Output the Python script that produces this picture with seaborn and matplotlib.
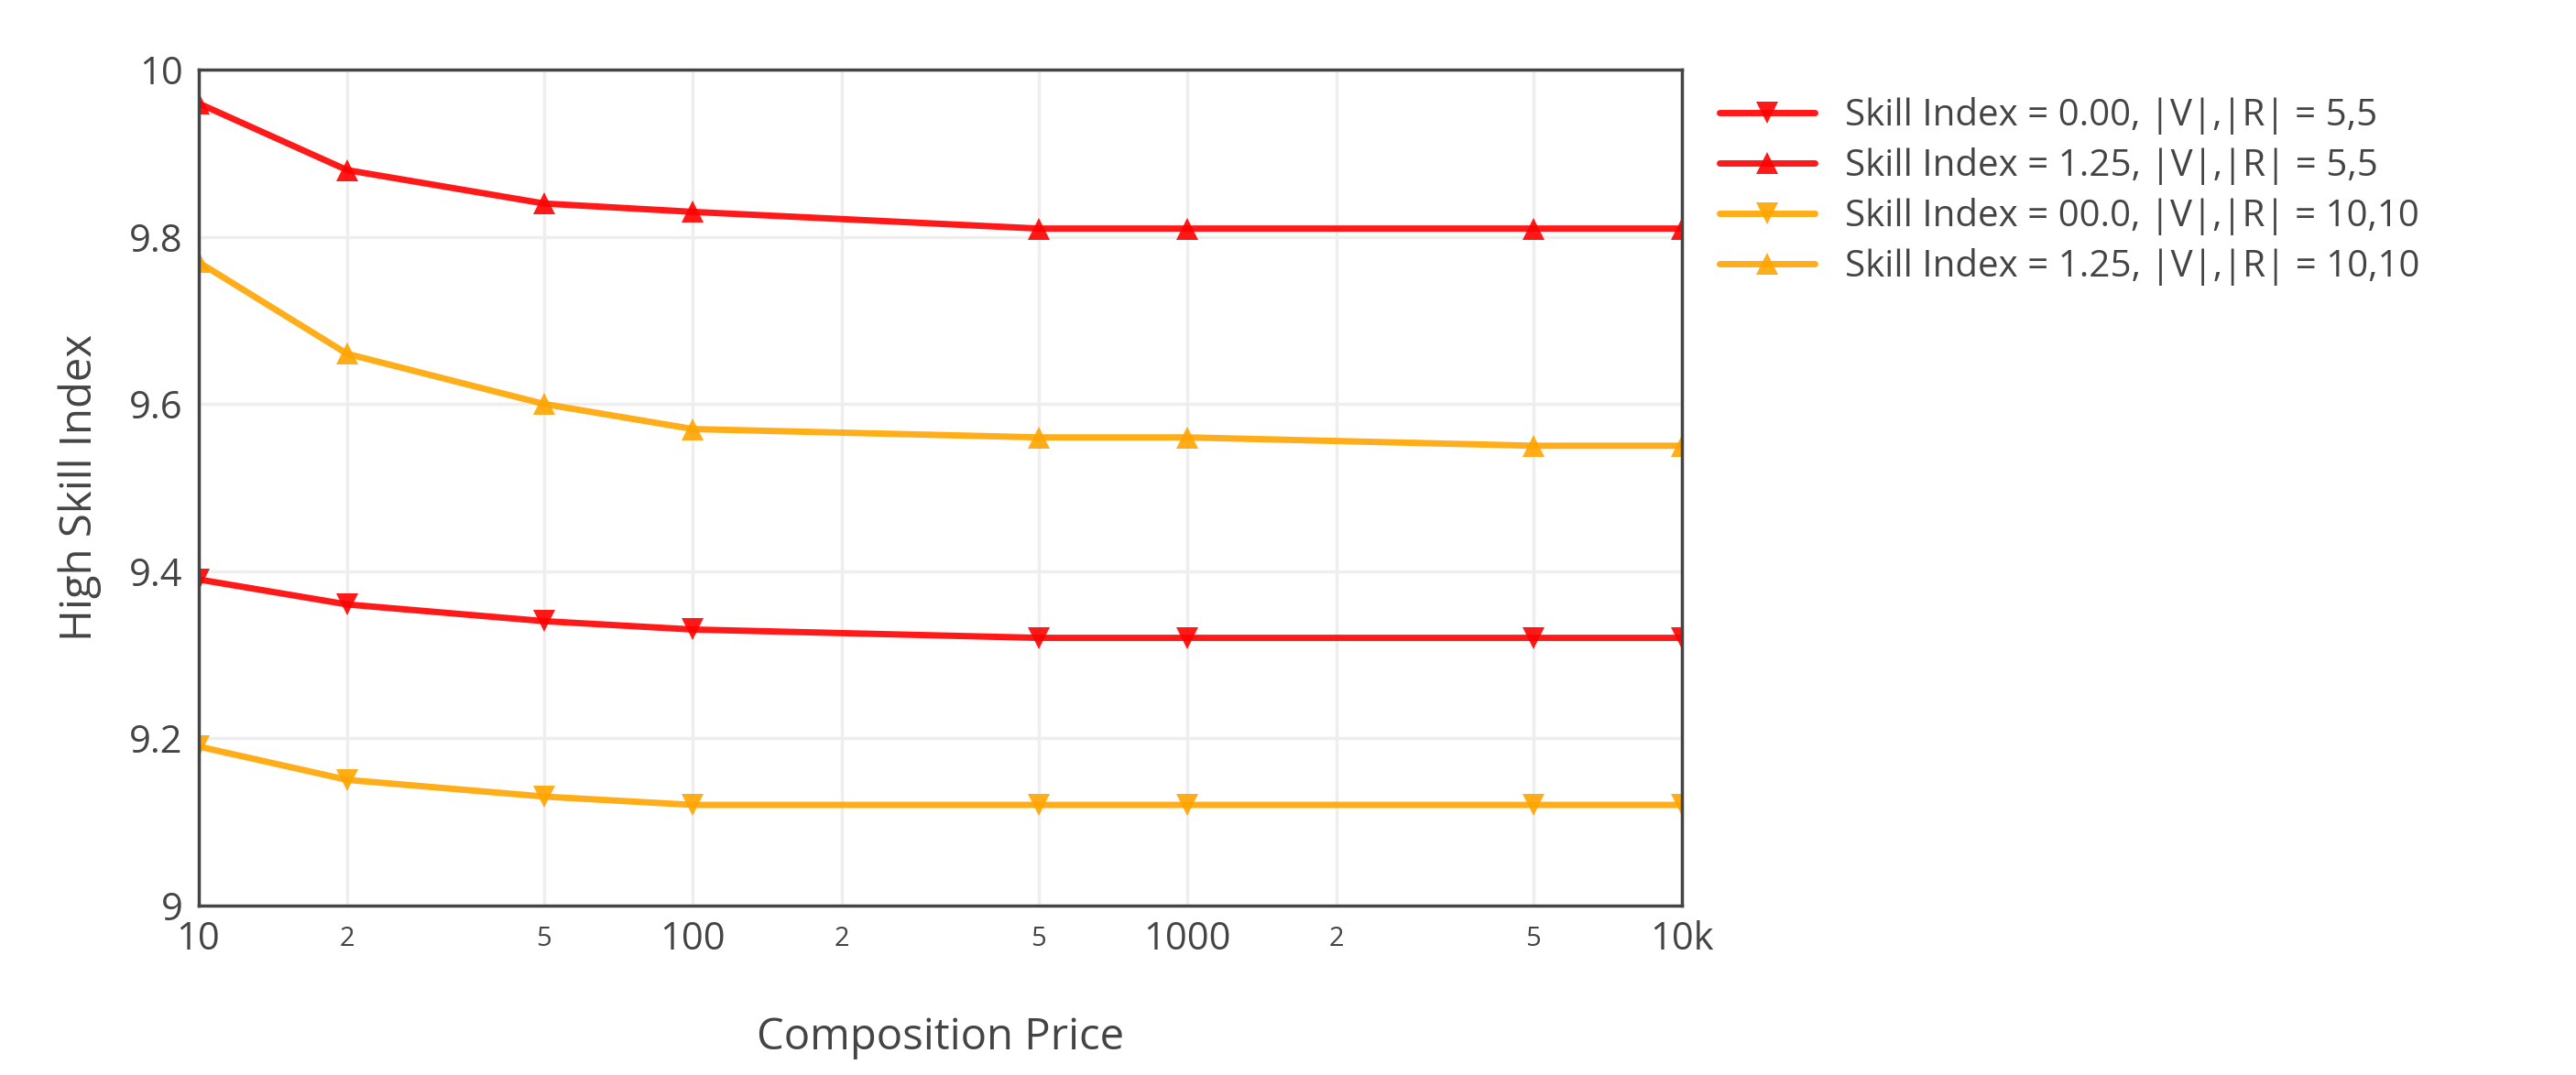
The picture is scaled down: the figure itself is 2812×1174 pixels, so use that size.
import matplotlib
matplotlib.use("Agg")
import matplotlib.pyplot as plt
import seaborn as sns
import pandas as pd
import numpy as np
from matplotlib.ticker import FixedLocator, FixedFormatter

prices = [10, 20, 50, 100, 500, 1000, 5000, 10000]
s_red_down = [9.39, 9.36, 9.34, 9.33, 9.32, 9.32, 9.32, 9.32]
s_red_up = [9.96, 9.88, 9.84, 9.83, 9.81, 9.81, 9.81, 9.81]
s_org_down = [9.19, 9.15, 9.13, 9.12, 9.12, 9.12, 9.12, 9.12]
s_org_up = [9.77, 9.66, 9.60, 9.57, 9.56, 9.56, 9.55, 9.55]
names = ["Skill Index = 0.00, |V|,|R| = 5,5",
         "Skill Index = 1.25, |V|,|R| = 5,5",
         "Skill Index = 00.0, |V|,|R| = 10,10",
         "Skill Index = 1.25, |V|,|R| = 10,10"]
series = [s_red_down, s_red_up, s_org_down, s_org_up]
colors = ["#ff0000", "#ff0000", "#ffa500", "#ffa500"]
markers = ["v", "^", "v", "^"]

rows = []
for n, s in zip(names, series):
    for x, y in zip(prices, s):
        rows.append({"Composition Price": x, "High Skill Index": y, "series": n})
df = pd.DataFrame(rows)

sns.set_theme(style="white")
plt.rcParams['font.family'] = ['Open Sans', 'DejaVu Sans']

fig = plt.figure(figsize=(28.12, 11.74), dpi=100)
ax = fig.add_axes([0.077, 0.158, 0.576, 0.777])
sns.lineplot(data=df, x="Composition Price", y="High Skill Index", hue="series",
             style="series", hue_order=names, style_order=names,
             palette=dict(zip(names, colors)), markers=dict(zip(names, markers)),
             dashes=False, linewidth=5, markersize=17, markeredgewidth=0, alpha=0.9, ax=ax)
ax.set_xscale("log")
ax.set_xlim(10, 10000)
ax.set_ylim(9, 10)
major = [10, 100, 1000, 10000]
minor = [20, 50, 200, 500, 2000, 5000]
ax.xaxis.set_major_locator(FixedLocator(major))
ax.xaxis.set_major_formatter(FixedFormatter(["10", "100", "1000", "10k"]))
ax.xaxis.set_minor_locator(FixedLocator(minor))
ax.xaxis.set_minor_formatter(FixedFormatter(["2", "5", "2", "5", "2", "5"]))
ax.set_yticks([9, 9.2, 9.4, 9.6, 9.8, 10])
ax.set_yticklabels(["9", "9.2", "9.4", "9.6", "9.8", "10"])
ax.tick_params(axis="both", which="major", labelsize=30, colors="#444444", length=0, pad=12)
ax.tick_params(axis="x", which="minor", labelsize=21, colors="#444444", length=0, pad=16)
ax.grid(True, which="both", color="#eeeeee", linewidth=2.5)
for sp in ax.spines.values():
    sp.set_color("#444444")
    sp.set_linewidth(2.5)
ax.set_xlabel("Composition Price", fontsize=34, color="#444444", labelpad=45)
ax.set_ylabel("High Skill Index", fontsize=34, color="#444444", labelpad=22)
h, l = ax.get_legend_handles_labels()
ax.legend(h, l, loc="upper left", bbox_to_anchor=(1.015, 0.985), frameon=False,
          fontsize=29, labelcolor="#444444", handlelength=2.6, labelspacing=0.35,
          borderaxespad=0)
fig.savefig("out.png", dpi=100)
